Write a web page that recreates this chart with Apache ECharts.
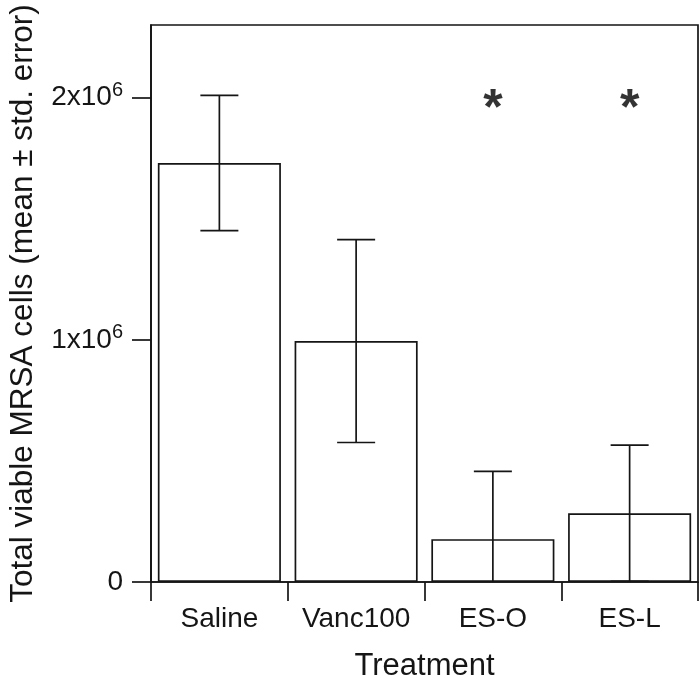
<!DOCTYPE html>
<html><head><meta charset="utf-8">
<script src="https://cdn.jsdelivr.net/npm/echarts@6/dist/echarts.min.js"></script>
<style>html,body{margin:0;padding:0;background:#fff}#c{width:700px;height:678px}</style>
</head><body><div id="c"></div>
<script>
var categories = ['Saline', 'Vanc100', 'ES-O', 'ES-L'];
var means = [1.730e6, 0.995e6, 0.177e6, 0.284e6];
var stdErr = [0.279e6, 0.419e6, 0.280e6, 0.281e6];
var starCats = ['ES-O', 'ES-L'];
var starLevel = 2.0e6;
var yTicks = [0, 1e6, 2e6];
var yTickLabels = ['0', '1x10^6', '2x10^6'];
var yMax = 2.3e6;

var FONT = 'Liberation Sans, Arial, Helvetica, sans-serif';
var INK = '#151515';
var chart = echarts.init(document.getElementById('c'));

function labelFmt(v) {
  var i = yTicks.indexOf(v);
  if (i < 0) return '';
  var t = yTickLabels[i];
  if (t.indexOf('^') >= 0) {
    var p = t.split('^');
    return '{b|' + p[0] + '}{s|' + p[1] + '}';
  }
  return '{b|' + t + '}';
}

chart.setOption({
  animation: false,
  grid: { left: 151, right: 2, top: 25, bottom: 96, outerBoundsMode: 'none', containLabel: false, show: true, borderColor: INK, borderWidth: 1.7, backgroundColor: 'transparent' },
  xAxis: {
    type: 'category', data: categories, boundaryGap: true,
    name: 'Treatment', nameLocation: 'middle', nameGap: 69,
    nameTextStyle: { fontFamily: FONT, fontSize: 31, color: INK },
    axisLine: { lineStyle: { color: INK, width: 1.7 } },
    axisTick: { show: true, length: 19, interval: 0, lineStyle: { color: INK, width: 1.7 } },
    axisLabel: { margin: 23, fontFamily: FONT, fontSize: 28, color: INK, interval: 0 },
    splitLine: { show: false }
  },
  yAxis: {
    type: 'value', min: 0, max: yMax, interval: 1e6,
    name: 'Total viable MRSA cells (mean \u00b1 std. error)', nameLocation: 'middle', nameGap: 112,
    nameTextStyle: { fontFamily: FONT, fontSize: 31.5, color: INK },
    axisLine: { show: true, lineStyle: { color: INK, width: 1.7 } },
    axisTick: { show: true, length: 19, customValues: yTicks, lineStyle: { color: INK, width: 1.7 } },
    axisLabel: {
      margin: 28, customValues: yTicks, formatter: labelFmt,
      rich: {
        b: { fontFamily: FONT, fontSize: 28, color: INK },
        s: { fontFamily: FONT, fontSize: 20, color: INK, verticalAlign: 'bottom', padding: [0, 0, 14, 0] }
      }
    },
    splitLine: { show: false }
  },
  series: [
    {
      type: 'bar', data: means, barWidth: '90%',
      itemStyle: { color: '#fff', borderColor: INK, borderWidth: 1.7 }
    },
    {
      type: 'custom',
      data: means.map(function (m, i) { return [i, m, stdErr[i]]; }),
      renderItem: function (params, api) {
        var i = api.value(0), m = api.value(1), se = api.value(2);
        var hi = api.coord([i, m + se]);
        var lowVal = m - se;
        var lo = api.coord([i, Math.max(lowVal, 0)]);
        var half = 19;
        var st = { stroke: INK, lineWidth: 1.7 };
        var children = [
          { type: 'line', shape: { x1: hi[0], y1: hi[1], x2: lo[0], y2: lo[1] }, style: st },
          { type: 'line', shape: { x1: hi[0] - half, y1: hi[1], x2: hi[0] + half, y2: hi[1] }, style: st }
        ];
        if (lowVal >= 0) {
          children.push({ type: 'line', shape: { x1: lo[0] - half, y1: lo[1], x2: lo[0] + half, y2: lo[1] }, style: st });
        }
        return { type: 'group', children: children };
      },
      z: 5
    },
    {
      type: 'scatter', symbolSize: 0,
      data: starCats.map(function (c) { return [c, starLevel]; }),
      label: { show: true, position: 'inside', formatter: '*', fontFamily: FONT, fontSize: 50, fontWeight: 'bold', color: '#000', offset: [0, 13] },
      z: 6
    }
  ]
});
</script>
</body></html>
